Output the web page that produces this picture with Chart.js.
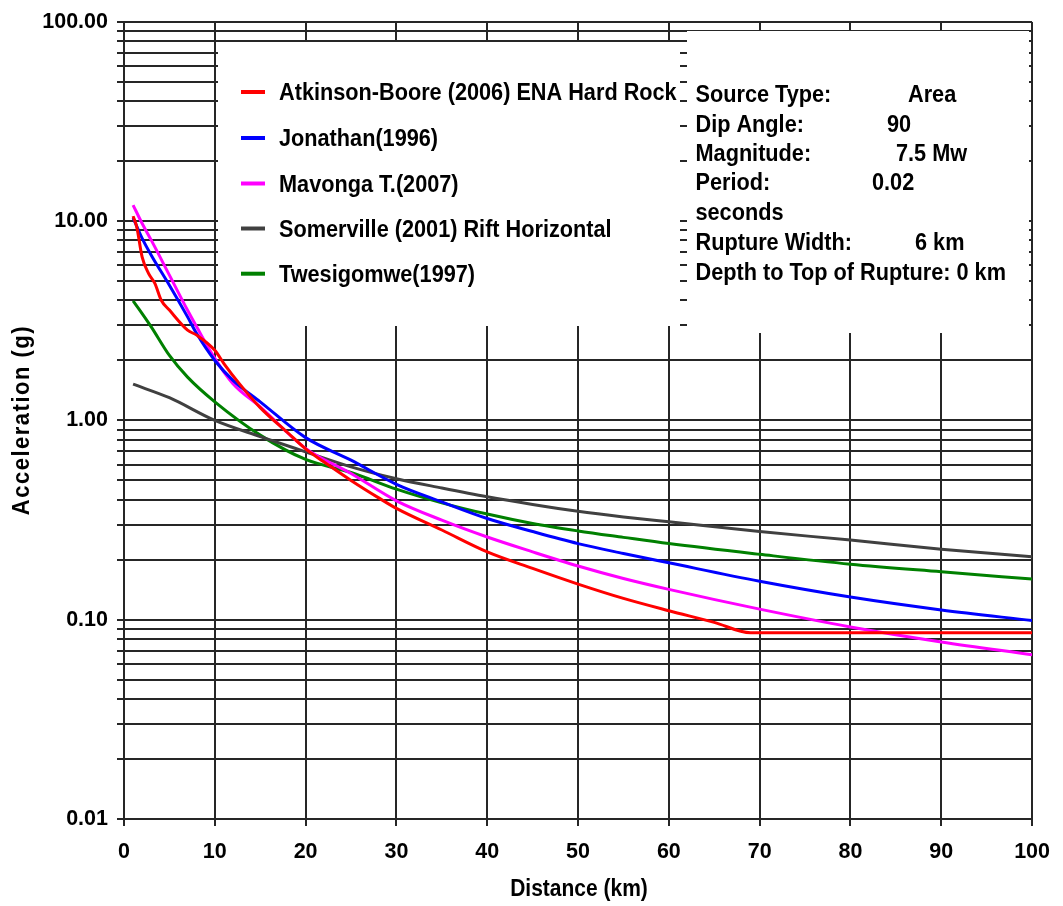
<!DOCTYPE html>
<html>
<head>
<meta charset="utf-8">
<script src="https://cdn.jsdelivr.net/npm/chart.js@4.4.1/dist/chart.umd.min.js"></script>
<style>
  html, body { margin: 0; padding: 0; background: #fff; }
  #wrap { width: 1063px; height: 906px; }
</style>
</head>
<body>
<div id="wrap"><canvas id="c" width="1063" height="906"></canvas></div>
<script>
// ---- data ----
const seriesNames = [
  'Atkinson-Boore (2006) ENA Hard Rock',
  'Jonathan(1996)',
  'Mavonga T.(2007)',
  'Somerville (2001) Rift Horizontal',
  'Twesigomwe(1997)'
];
const seriesColors = ['#ff0000', '#0000ff', '#ff00ff', '#404040', '#008000'];

const atkinsonX = [1, 1.4, 2, 2.7, 3.4, 4.1, 5, 7, 8, 10, 11, 12.7, 15, 18, 20, 22, 25, 28, 30, 35, 40, 45, 50, 55, 60, 65, 69, 100];
const atkinsonY = [10.6, 9.36, 6.6, 5.47, 4.87, 4.01, 3.58, 2.84, 2.68, 2.25, 1.93, 1.53, 1.16, 0.87, 0.72, 0.62, 0.50, 0.41, 0.362, 0.282, 0.219, 0.181, 0.151, 0.128, 0.111, 0.097, 0.086, 0.086];

const jonathanX = [1, 2, 3, 5, 7, 8, 10, 12, 15, 20, 25, 30, 35, 40, 45, 50, 55, 60, 70, 80, 90, 100];
const jonathanY = [10.4, 8.2, 6.75, 4.77, 3.31, 2.73, 2.0, 1.59, 1.24, 0.82, 0.632, 0.478, 0.39, 0.322, 0.277, 0.241, 0.215, 0.193, 0.156, 0.130, 0.112, 0.099];

const mavongaX = [1, 2, 3, 5, 7, 8, 10, 12, 15, 20, 25, 30, 35, 40, 45, 50, 55, 60, 70, 80, 90, 100];
const mavongaY = [12.05, 9.73, 8.03, 5.36, 3.57, 2.95, 2.05, 1.53, 1.17, 0.724, 0.542, 0.395, 0.316, 0.26, 0.219, 0.186, 0.161, 0.142, 0.113, 0.092, 0.0774, 0.0667];

const somervilleX = [1, 5, 10, 15, 20, 25, 30, 35, 40, 45, 50, 55, 60, 70, 80, 90, 100];
const somervilleY = [1.52, 1.30, 1.00, 0.83, 0.696, 0.585, 0.51, 0.458, 0.414, 0.379, 0.350, 0.328, 0.31, 0.277, 0.251, 0.226, 0.207];

const twesigomweX = [1, 2, 3, 5, 7, 10, 15, 20, 25, 30, 35, 40, 45, 50, 55, 60, 70, 80, 90, 100];
const twesigomweY = [3.98, 3.44, 2.95, 2.12, 1.65, 1.24, 0.844, 0.637, 0.548, 0.452, 0.386, 0.339, 0.304, 0.279, 0.259, 0.241, 0.213, 0.190, 0.174, 0.160];

const yMajorTicks = [0.01, 0.1, 1, 10, 100];
const yTickLabels = ['0.01', '0.10', '1.00', '10.00', '100.00'];
const xTickStep = 10;

const infoLabels = ['Source Type:', 'Dip Angle:', 'Magnitude:', 'Period:', 'seconds', 'Rupture Width:', 'Depth to Top of Rupture: 0 km'];
const infoValues = ['Area', '90', '7.5 Mw', '0.02', '', '6 km', ''];

const xTitle = 'Distance (km)';
const yTitle = 'Acceleration (g)';

// ---- helpers ----
const FONT = '"Liberation Sans", Arial, sans-serif';
function pts(xs, ys) { return xs.map((x, i) => ({ x: x, y: ys[i] })); }
const allSeries = [
  pts(atkinsonX, atkinsonY),
  pts(jonathanX, jonathanY),
  pts(mavongaX, mavongaY),
  pts(somervilleX, somervilleY),
  pts(twesigomweX, twesigomweY)
];

const GRID = '#262626';

function tallText(ctx, t, x, y, sy) {
  ctx.save();
  ctx.translate(x, y);
  ctx.scale(1, sy);
  ctx.fillText(t, 0, 0);
  ctx.restore();
}

const overlayPlugin = {
  id: 'overlay',
  beforeDatasetsDraw(chart) {
    const ctx = chart.ctx;
    ctx.save();
    ctx.fillStyle = '#ffffff';
    ctx.fillRect(218, 42, 680 - 218, 326 - 42);
    ctx.fillRect(687, 31, 1029 - 687, 333 - 31);
    ctx.restore();
  },
  afterDraw(chart) {
    const ctx = chart.ctx;
    ctx.save();
    const legBase = [100, 146, 191.5, 236.5, 281.7];
    ctx.font = 'bold 21.7px ' + FONT;
    ctx.textAlign = 'left';
    ctx.textBaseline = 'alphabetic';
    seriesNames.forEach((name, i) => {
      ctx.strokeStyle = seriesColors[i];
      ctx.lineWidth = 4;
      ctx.beginPath();
      ctx.moveTo(241, legBase[i] - 8);
      ctx.lineTo(265, legBase[i] - 8);
      ctx.stroke();
      ctx.fillStyle = '#000';
      tallText(ctx, name, 279, legBase[i], 1.08);
    });
    const infoBase = [101.7, 131.5, 160.5, 190, 219.5, 249.5, 279.5];
    const valX = [908, 887, 896, 872, 0, 915, 0];
    ctx.font = 'bold 21.7px ' + FONT;
    infoLabels.forEach((t, i) => {
      tallText(ctx, t, 695.5, infoBase[i], 1.08);
      if (infoValues[i]) tallText(ctx, infoValues[i], valX[i], infoBase[i], 1.08);
    });
    ctx.font = 'bold 21px ' + FONT;
    ctx.textAlign = 'center';
    ctx.textBaseline = 'alphabetic';
    tallText(ctx, xTitle, 579, 896, 1.12);
    ctx.translate(29, 420);
    ctx.rotate(-Math.PI / 2);
    ctx.font = 'bold 22px ' + FONT;
    ctx.letterSpacing = '1.5px';
    ctx.scale(1, 1.12);
    ctx.fillText(yTitle, 0, 0);
    ctx.restore();
  }
};

new Chart(document.getElementById('c'), {
  type: 'line',
  data: {
    datasets: allSeries.map((d, i) => ({
      label: seriesNames[i],
      data: d,
      borderColor: seriesColors[i],
      backgroundColor: seriesColors[i],
      borderWidth: 3,
      pointRadius: 0,
      fill: false,
      cubicInterpolationMode: 'monotone'
    }))
  },
  options: {
    responsive: false,
    animation: false,
    devicePixelRatio: 1,
    layout: { padding: { left: 0, top: 21, right: 28, bottom: 0 } },
    plugins: { legend: { display: false }, tooltip: { enabled: false } },
    scales: {
      x: {
        type: 'linear',
        min: 0, max: 100,
        afterFit(s) { s.height = 87; },
        ticks: {
          stepSize: xTickStep,
          color: '#000',
          font: { family: FONT, size: 21.5, weight: 'bold' },
          padding: 13,
          maxRotation: 0
        },
        grid: { color: GRID, lineWidth: 2, tickLength: 7 },
        border: { color: GRID, width: 2 }
      },
      y: {
        type: 'logarithmic',
        min: 0.01, max: 100,
        afterFit(s) { s.width = 124; },
        afterBuildTicks(s) {
          const t = [];
          for (let i = 0; i < yMajorTicks.length - 1; i++) {
            for (let k = 1; k <= 9; k++) t.push({ value: k * yMajorTicks[i] });
          }
          t.push({ value: yMajorTicks[yMajorTicks.length - 1] });
          s.ticks = t;
        },
        ticks: {
          autoSkip: false,
          color: '#000',
          font: { family: FONT, size: 21.5, weight: 'bold' },
          padding: 9,
          callback(v) {
            const i = yMajorTicks.findIndex(m => Math.abs(m - v) / m < 1e-6);
            return i >= 0 ? yTickLabels[i] : '';
          }
        },
        grid: { color: GRID, lineWidth: 2, tickLength: 7 },
        border: { color: GRID, width: 2 }
      }
    }
  },
  plugins: [overlayPlugin]
});
</script>
</body>
</html>
